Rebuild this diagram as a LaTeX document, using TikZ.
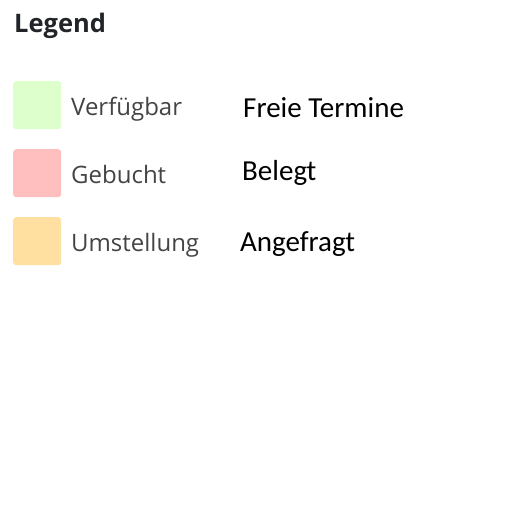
\documentclass[tikz,border=0pt]{standalone}
\usepackage{fontspec}
\setmainfont{Open Sans}
\newfontfamily\calibri{Carlito}
\usetikzlibrary{positioning}
\definecolor{frei}{RGB}{221,255,204}
\definecolor{belegt}{RGB}{255,191,191}
\definecolor{anfrage}{RGB}{255,224,160}
\definecolor{titel}{RGB}{33,37,41}
\definecolor{grau}{RGB}{68,68,68}

\begin{document}
\begin{tikzpicture}[x = 1pt, y = -1pt,
    swatch/.style = {rounded corners = 3pt, minimum size = 48pt, inner sep = 0pt, anchor = north west},
    lbl/.style = {anchor = base west, inner sep = 0pt, text = grau, font = \fontsize{24}{29}\selectfont},
    note/.style = {anchor = base west, inner sep = 0pt, font = \calibri\fontsize{29}{35}\selectfont}]
    \useasboundingbox (0,0) rectangle (512,512);
    \node[anchor = base west, inner sep = 0pt, text = titel, font = \bfseries\fontsize{25.5}{30}\selectfont] (title) at (14,32) {Legend};
    % colour swatches
    \node[swatch, fill = frei] (sw1) at (13,81) {};
    \node[swatch, fill = belegt] (sw2) at (13,149) {};
    \node[swatch, fill = anfrage] (sw3) at (13,217) {};
    % labels
    \node[lbl] (l1) at (71,115) {Verfügbar};
    \node[lbl] (l2) at (71,183) {Gebucht};
    \node[lbl] (l3) at (71,251) {Umstellung};
    % notes
    \node[note] (n1) at (243,117) {Freie Termine};
    \node[note] (n2) at (242,180) {Belegt};
    \node[note] (n3) at (240,251) {Angefragt};
\end{tikzpicture}
\end{document}
